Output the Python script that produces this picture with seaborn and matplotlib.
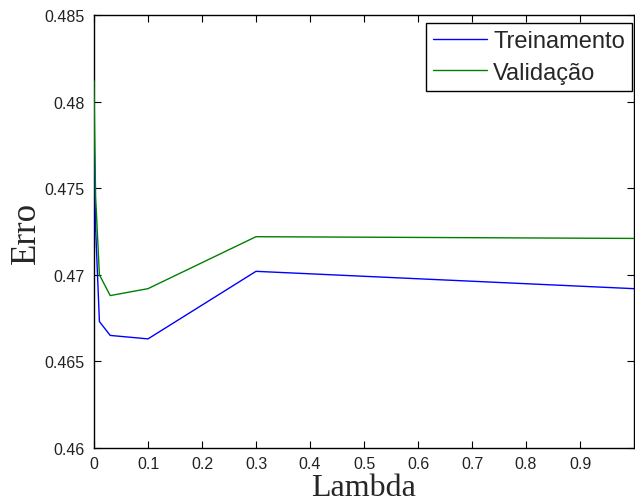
import numpy as np
import pandas as pd
import matplotlib
matplotlib.use("Agg")
import matplotlib.pyplot as plt
import seaborn as sns

lambdas = [0.0, 0.001, 0.003, 0.01, 0.03, 0.1, 0.3, 1.0]
erro_treinamento = [0.4784, 0.4763, 0.4727, 0.4673, 0.4665, 0.4663, 0.4702, 0.4692]
erro_validacao = [0.4812, 0.4785, 0.4745, 0.4700, 0.4688, 0.4692, 0.4722, 0.4721]
series_names = ["Treinamento", "Validação"]
x_ticks = [0, 0.1, 0.2, 0.3, 0.4, 0.5, 0.6, 0.7, 0.8, 0.9]
y_ticks = [0.46, 0.465, 0.47, 0.475, 0.48, 0.485]
y_ticklabels = ["0.46", "0.465", "0.47", "0.475", "0.48", "0.485"]

df = pd.DataFrame({
    "Lambda": lambdas * 2,
    "Erro": erro_treinamento + erro_validacao,
    "Serie": [series_names[0]] * len(lambdas) + [series_names[1]] * len(lambdas),
})

sns.set_style("ticks")
plt.rcParams["font.family"] = ["Liberation Sans", "DejaVu Sans"]

fig = plt.figure(figsize=(6.35, 5.02), dpi=100)
ax = fig.add_axes([94 / 635, 1 - 449 / 502, 540 / 635, 433 / 502])

sns.lineplot(data=df, x="Lambda", y="Erro", hue="Serie", sort=False,
             palette={"Treinamento": "#0000ff", "Validação": "#008000"},
             linewidth=1.0, ax=ax, estimator=None)
for ln in ax.get_lines():
    ln.set_zorder(3)

ax.set_xlim(0, 1)
ax.set_ylim(0.46, 0.485)
ax.set_xticks(x_ticks)
ax.set_xticklabels([f"{t:g}" for t in x_ticks])
ax.set_yticks(y_ticks)
ax.set_yticklabels(y_ticklabels)
ax.tick_params(direction="in", length=5, width=0.8, top=True, right=True,
               labelsize=11.5, colors="black")
ax.tick_params(axis="y", pad=7)
ax.tick_params(axis="x", pad=5.5)
for t in ax.get_xticklabels() + ax.get_yticklabels():
    t.set_color("#222222")
for s in ax.spines.values():
    s.set_visible(True)
    s.set_color("black")
    s.set_linewidth(1.0)

ax.set_xlabel("Lambda", family=["Liberation Serif"], fontsize=23, labelpad=2)
ax.set_ylabel("Erro", family=["Liberation Serif"], fontsize=25, labelpad=1)

leg = ax.legend(loc="upper right", bbox_to_anchor=(0.9963, 0.9815),
                fontsize=17, frameon=True, fancybox=False,
                edgecolor="black", framealpha=1, handlelength=2.3,
                borderaxespad=0.0, handletextpad=0.25, labelspacing=0.4,
                borderpad=0.3, title=None)
leg.get_frame().set_linewidth(1.0)
leg.set_zorder(5)

fig.savefig("out.png", dpi=100, facecolor="white")
